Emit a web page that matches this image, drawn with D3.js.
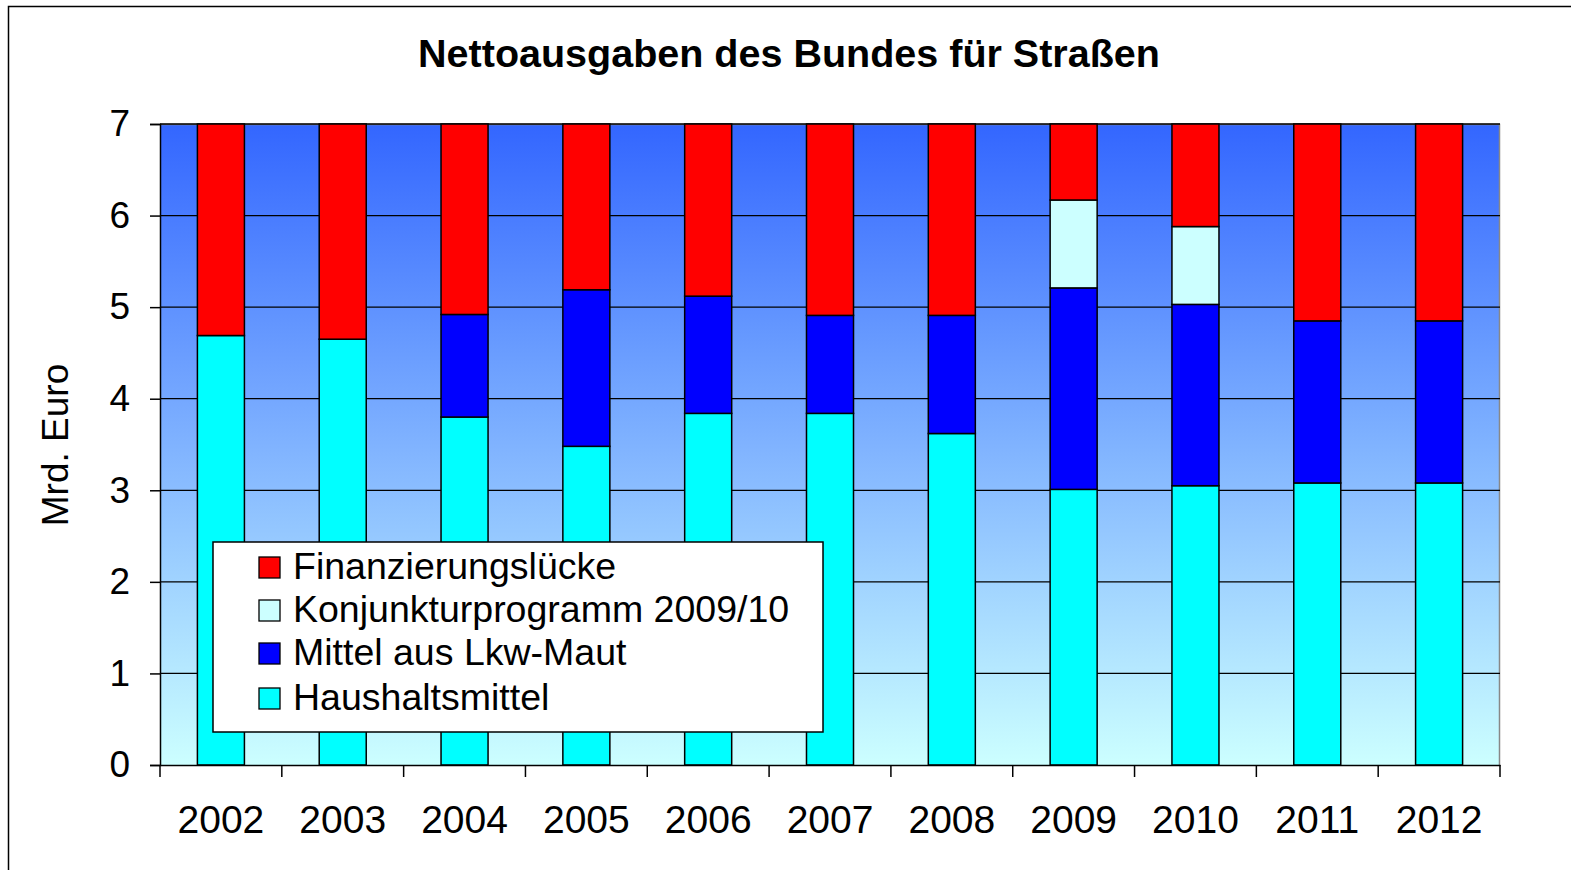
<!DOCTYPE html>
<html><head><meta charset="utf-8">
<script src="https://cdn.jsdelivr.net/npm/d3@7"></script>
<style>body{margin:0;background:#fff}svg{display:block;font-family:"Liberation Sans",Arial,sans-serif}</style>
</head><body>
<svg id="c" width="1571" height="870"></svg>
<script>
const years = ["2002","2003","2004","2005","2006","2007","2008","2009","2010","2011","2012"];
const haushaltsmittel = [4.69,4.65,3.80,3.48,3.84,3.84,3.62,3.01,3.05,3.08,3.08];
const lkwMaut = [0,0,1.12,1.71,1.28,1.07,1.29,2.20,1.98,1.77,1.77];
const konjunktur = [0,0,0,0,0,0,0,0.96,0.85,0,0];
const luecke = [2.31,2.35,2.08,1.81,1.88,2.09,2.09,0.83,1.12,2.15,2.15];
const yTicks = [0,1,2,3,4,5,6,7];
const seriesNames = ["Haushaltsmittel","Mittel aus Lkw-Maut","Konjunkturprogramm 2009/10","Finanzierungslücke"];
const seriesColors = ["#00FFFF","#0000FF","#CCFFFF","#FF0000"];
const legendOrder = [3,2,1,0];

const svg = d3.select("#c");
const L=160,R=1500,T=124,B=765;

// outer frame
svg.append("path").attr("d","M8.5,880 L8.5,6.5 L1580,6.5").attr("fill","none").attr("stroke","#000").attr("stroke-width",1.5);

const defs = svg.append("defs");
const g = defs.append("linearGradient").attr("id","bg").attr("x1",0).attr("y1",0).attr("x2",0).attr("y2",1);
g.append("stop").attr("offset","0%").attr("stop-color","#3366FF");
g.append("stop").attr("offset","100%").attr("stop-color","#CCFFFF");

const x = d3.scaleBand().domain(years).range([L,R]).paddingInner(0.614).paddingOuter(0.307);
const y = d3.scaleLinear().domain([0,7]).range([B,T]);

svg.append("rect").attr("x",L).attr("y",T).attr("width",R-L).attr("height",B-T).attr("fill","url(#bg)");
svg.append("path").attr("d",`M${L},${T+0.5} L${R-0.5},${T+0.5} L${R-0.5},${B}`).attr("fill","none").attr("stroke","#888").attr("stroke-width",1.5);

// gridlines
svg.append("g").selectAll("line").data(yTicks.filter(d=>d>0)).join("line")
  .attr("x1",L).attr("x2",R).attr("y1",d=>y(d)).attr("y2",d=>y(d))
  .attr("stroke","#000").attr("stroke-width",1.3);

// stacked bars
const rows = years.map((yr,i)=>({year:yr, s0:haushaltsmittel[i], s1:lkwMaut[i], s2:konjunktur[i], s3:luecke[i]}));
const stack = d3.stack().keys(["s0","s1","s2","s3"])(rows);
svg.append("g").selectAll("g").data(stack).join("g")
  .attr("fill",(d,i)=>seriesColors[i])
  .selectAll("rect").data(d=>d.filter(v=>v[1]-v[0]>0)).join("rect")
  .attr("x",d=>x(d.data.year)).attr("width",x.bandwidth())
  .attr("y",d=>y(d[1])).attr("height",d=>y(d[0])-y(d[1]))
  .attr("stroke","#000").attr("stroke-width",1.5);

// axes
const yAxis = svg.append("g").attr("transform",`translate(${L},0)`)
  .call(d3.axisLeft(y).tickValues(yTicks).tickSize(10).tickPadding(20).tickFormat(d3.format("d")));
yAxis.select(".domain").attr("stroke","#000").attr("stroke-width",1.5);
yAxis.selectAll(".tick line").attr("stroke-width",1.5);
yAxis.selectAll("text").attr("font-size",37).attr("fill","#000").attr("font-family","Liberation Sans, Arial, sans-serif");

const xAxis = svg.append("g").attr("transform",`translate(0,${B})`)
  .call(d3.axisBottom(x).tickSize(0).tickPadding(40));
xAxis.select(".domain").attr("stroke","#000").attr("stroke-width",1.5);
xAxis.selectAll("text").attr("font-size",39).attr("fill","#000").attr("font-family","Liberation Sans, Arial, sans-serif");
const step = x.step();
const tickPos = d3.range(years.length+1).map(i=>L+i*step);
svg.append("g").selectAll("line").data(tickPos).join("line")
  .attr("x1",d=>d).attr("x2",d=>d).attr("y1",B).attr("y2",B+12)
  .attr("stroke","#000").attr("stroke-width",1.5);

// title
svg.append("text").attr("x",789).attr("y",67).attr("text-anchor","middle")
  .attr("font-size",39.5).attr("font-weight","bold").text("Nettoausgaben des Bundes für Straßen");

// y axis title
svg.append("text").attr("transform","translate(68,445) rotate(-90)").attr("text-anchor","middle")
  .attr("font-size",37).text("Mrd. Euro");

// legend
const lg = svg.append("g");
lg.append("rect").attr("x",213).attr("y",542).attr("width",610).attr("height",190)
  .attr("fill","#fff").attr("stroke","#000").attr("stroke-width",1.5);
const rowsY = [567,610,653,698];
lg.selectAll("g.item").data(legendOrder).join("g").attr("class","item")
  .each(function(si,k){
    const gg = d3.select(this);
    gg.append("rect").attr("x",259).attr("y",rowsY[k]-10).attr("width",21).attr("height",21)
      .attr("fill",seriesColors[si]).attr("stroke","#000").attr("stroke-width",1.3);
    gg.append("text").attr("x",293).attr("y",rowsY[k]+12).attr("font-size",37.5).text(seriesNames[si]);
  });
</script>
</body></html>
